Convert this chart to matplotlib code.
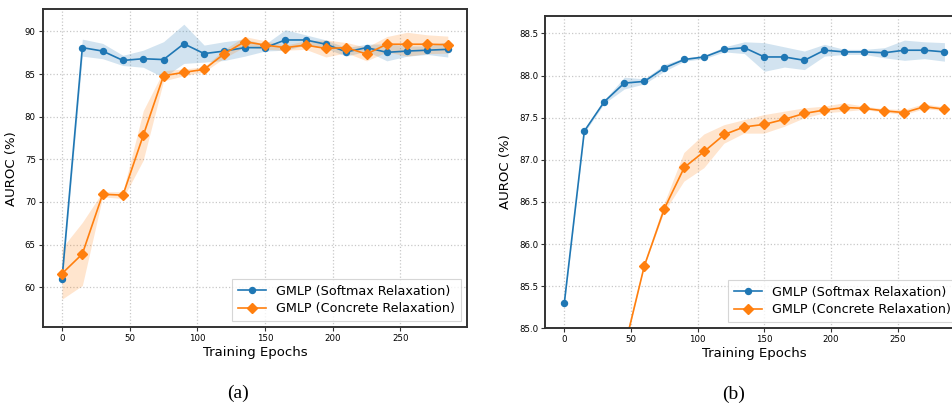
import numpy as np
import matplotlib
matplotlib.use("Agg")
import matplotlib.pyplot as plt

epochs = np.arange(0, 286, 15)

# (a) AUROC, mean and std over runs
softmax_a = [61.0, 88.1, 87.7, 86.6, 86.8, 86.7, 88.55, 87.4, 87.7, 88.1,
             88.1, 89.0, 89.0, 88.5, 87.6, 88.1, 87.55, 87.7, 87.8, 87.9]
softmax_a_std = [0.6, 1.0, 0.9, 0.6, 1.0, 2.1, 2.3, 1.0, 1.1, 1.0,
                 0.4, 1.2, 0.6, 0.5, 0.5, 0.4, 1.0, 0.6, 0.5, 0.9]
concrete_a = [61.6, 63.9, 70.9, 70.8, 77.8, 84.8, 85.2, 85.55, 87.4, 88.8,
              88.4, 88.1, 88.4, 88.0, 88.1, 87.35, 88.5, 88.5, 88.5, 88.45]
concrete_a_std = [3.0, 3.7, 0.3, 0.4, 2.9, 0.6, 0.4, 0.3, 0.5, 0.6,
                  0.5, 0.3, 0.5, 1.0, 0.6, 0.8, 0.9, 1.4, 1.1, 1.0]

# (b) AUROC, mean and std over runs
softmax_b = [85.30, 87.34, 87.69, 87.91, 87.93, 88.09, 88.19, 88.22, 88.31, 88.33,
             88.22, 88.22, 88.18, 88.30, 88.28, 88.28, 88.27, 88.30, 88.30, 88.28]
softmax_b_std = [0.02, 0.02, 0.02, 0.07, 0.03, 0.04, 0.02, 0.02, 0.03, 0.07,
                 0.17, 0.12, 0.11, 0.07, 0.03, 0.03, 0.06, 0.12, 0.10, 0.11]
concrete_b = [79.5, 82.0, 83.8, 84.76, 85.74, 86.42, 86.91, 87.10, 87.30, 87.39,
              87.42, 87.48, 87.55, 87.59, 87.62, 87.61, 87.58, 87.56, 87.63, 87.60]
concrete_b_std = [0.3, 0.2, 0.1, 0.05, 0.02, 0.05, 0.17, 0.20, 0.11, 0.08,
                  0.11, 0.09, 0.06, 0.04, 0.05, 0.02, 0.02, 0.03, 0.03, 0.02]

BLUE = "#1f77b4"
ORANGE = "#ff7f0e"

plt.rcParams["font.family"] = "DejaVu Sans"

fig = plt.figure(figsize=(9.52, 4.05), dpi=100)
ax_a = fig.add_axes([0.0449, 0.1919, 0.4457, 0.7852])
ax_b = fig.add_axes([0.5728, 0.1894, 0.4392, 0.7719])


def draw_panel(ax, s_mean, s_std, c_mean, c_std, ylim, yticks, yfmt):
    s_mean, s_std = np.array(s_mean), np.array(s_std)
    c_mean, c_std = np.array(c_mean), np.array(c_std)
    ax.fill_between(epochs, s_mean - s_std, s_mean + s_std, color=BLUE, alpha=0.2, lw=0)
    ax.fill_between(epochs, c_mean - c_std, c_mean + c_std, color=ORANGE, alpha=0.2, lw=0)
    ax.plot(epochs, s_mean, color=BLUE, marker="o", ms=4.3, lw=1.2,
            label="GMLP (Softmax Relaxation)")
    ax.plot(epochs, c_mean, color=ORANGE, marker="D", ms=4.6, lw=1.2,
            label="GMLP (Concrete Relaxation)")
    ax.set_xlim(-14.25, 299.25)
    ax.set_ylim(*ylim)
    ax.set_xticks([0, 50, 100, 150, 200, 250])
    ax.set_yticks(yticks)
    ax.set_yticklabels([yfmt.format(v) for v in yticks])
    ax.grid(True, ls=":", color="#c8c8c8", lw=0.9)
    ax.set_axisbelow(True)
    for sp in ax.spines.values():
        sp.set_color("#333333")
        sp.set_linewidth(1.4)
    ax.tick_params(labelsize=6.2, length=3, width=0.8, color="#333333", pad=2)
    ax.set_xlabel("Training Epochs", fontsize=9.5, labelpad=2)
    ax.set_ylabel("AUROC (%)", fontsize=9.5, labelpad=5)
    leg = ax.legend(loc="lower right", fontsize=9.2, frameon=True, fancybox=False,
                    borderpad=0.45, handlelength=2.2, labelspacing=0.35)
    leg.get_frame().set_edgecolor("#cccccc")
    leg.get_frame().set_linewidth(0.8)


draw_panel(ax_a, softmax_a, softmax_a_std, concrete_a, concrete_a_std,
           (55.3, 92.6), [60, 65, 70, 75, 80, 85, 90], "{:.0f}")
draw_panel(ax_b, softmax_b, softmax_b_std, concrete_b, concrete_b_std,
           (85.0, 88.71), [85.0, 85.5, 86.0, 86.5, 87.0, 87.5, 88.0, 88.5], "{:.1f}")

fig.text(238 / 952, 1 - 393 / 405, "(a)", ha="center", va="center",
         family="Liberation Serif", fontsize=14)
fig.text(734 / 952, 1 - 394 / 405, "(b)", ha="center", va="center",
         family="Liberation Serif", fontsize=14)

fig.savefig("out.png", dpi=100)
